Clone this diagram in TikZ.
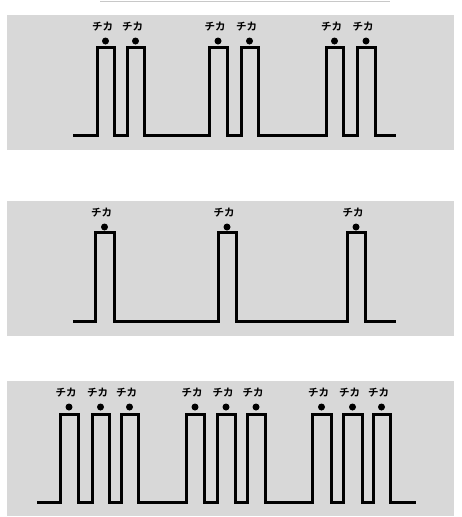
\documentclass[tikz,border=0pt]{standalone}
\usepackage{fontspec}
\newfontfamily\jpfont{Noto Sans CJK JP}[BoldFont={Noto Sans CJK JP Bold}]
\definecolor{panelgray}{RGB}{216,216,216}
\definecolor{rulegray}{RGB}{200,200,200}
\tikzset{
  panel/.style={fill=panelgray,draw=none},
  wave/.style={line width=3pt,line join=miter,black},
  flash/.style={circle,fill=black,inner sep=0pt,minimum size=7pt},
  lbl/.style={font=\jpfont\bfseries\fontsize{10.5}{11}\selectfont,inner sep=0pt}
}
\newcommand{\chika}[3]{%
  \node[flash] (d#1) at (#2,#3) {};
  \node[lbl] (t#1) at ([xshift=-3pt,yshift=14pt]d#1.center) {チカ};
}
\begin{document}
\begin{tikzpicture}[x=1pt,y=-1pt]
\useasboundingbox (0,0) rectangle (461,517);
\draw[rulegray,line width=0.8pt] (100,1) -- (390,1);
% panels
\fill[panel] (7,15) rectangle (454,150);
\fill[panel] (7,201) rectangle (454,336);
\fill[panel] (7,381) rectangle (454,516);
% panel 1
\draw[wave] (73,135) -- (97,135) -- (97,47) -- (114,47) -- (114,135) -- (127,135) -- (127,47) -- (144,47) -- (144,135)
  -- (209,135) -- (209,47) -- (227,47) -- (227,135) -- (241,135) -- (241,47) -- (258,47) -- (258,135)
  -- (326,135) -- (326,47) -- (343,47) -- (343,135) -- (357,135) -- (357,47) -- (375,47) -- (375,135) -- (396,135);
\chika{a1}{105.5}{41}
\chika{a2}{135.5}{41}
\chika{a3}{218}{41}
\chika{a4}{249.5}{41}
\chika{a5}{334.5}{41}
\chika{a6}{366}{41}
% panel 2
\draw[wave] (73,321) -- (95,321) -- (95,232) -- (114,232) -- (114,321)
  -- (218,321) -- (218,232) -- (236,232) -- (236,321)
  -- (347,321) -- (347,232) -- (365,232) -- (365,321) -- (396,321);
\chika{b1}{104.5}{227}
\chika{b2}{227}{227}
\chika{b3}{356}{227}
% panel 3
\draw[wave] (37,502) -- (60,502) -- (60,414) -- (78,414) -- (78,502) -- (92,502) -- (92,414) -- (109,414) -- (109,502)
  -- (121,502) -- (121,414) -- (138,414) -- (138,502)
  -- (186,502) -- (186,414) -- (204,414) -- (204,502) -- (217,502) -- (217,414) -- (235,414) -- (235,502)
  -- (247,502) -- (247,414) -- (265,414) -- (265,502)
  -- (312,502) -- (312,414) -- (331,414) -- (331,502) -- (343,502) -- (343,414) -- (362,414) -- (362,502)
  -- (373,502) -- (373,414) -- (390,414) -- (390,502) -- (416,502);
\chika{c1}{69}{407}
\chika{c2}{100.5}{407}
\chika{c3}{129.5}{407}
\chika{c4}{195}{407}
\chika{c5}{226}{407}
\chika{c6}{256}{407}
\chika{c7}{321.5}{407}
\chika{c8}{352.5}{407}
\chika{c9}{381.5}{407}
\end{tikzpicture}
\end{document}
